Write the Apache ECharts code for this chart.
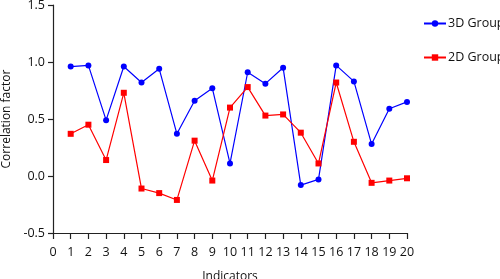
<!DOCTYPE html>
<html><head><meta charset="utf-8">
<script src="https://cdn.jsdelivr.net/npm/echarts@6/dist/echarts.min.js"></script>
<style>html,body{margin:0;padding:0;background:#fff}#c{width:500px;height:279px}</style>
</head><body><div id="c"></div>
<script>
var indicators = [1,2,3,4,5,6,7,8,9,10,11,12,13,14,15,16,17,18,19,20];
var group3D = [0.96,0.97,0.49,0.96,0.82,0.94,0.37,0.66,0.77,0.11,0.91,0.81,0.95,-0.08,-0.03,0.97,0.83,0.28,0.59,0.65];
var group2D = [0.37,0.45,0.14,0.73,-0.11,-0.15,-0.21,0.31,-0.04,0.60,0.78,0.53,0.54,0.38,0.11,0.82,0.30,-0.06,-0.04,-0.02];
var seriesNames = ['3D Group','2D Group'];
var font = 'Open Sans';
function pairs(v){return indicators.map(function(x,i){return [x,v[i]];});}
var chart = echarts.init(document.getElementById('c'), null, {renderer:'canvas'});
chart.setOption({
  animation:false,
  textStyle:{fontFamily:font},
  grid:{left:53,right:93,top:5,bottom:46,containLabel:false,outerBoundsMode:'none'},
  legend:{
    orient:'vertical', left:418, top:12, itemGap:21, itemWidth:22, itemHeight:8,
    textStyle:{fontFamily:font,fontSize:12.5,color:'#111',padding:[0,0,0,-3]},
    data:seriesNames
  },
  xAxis:{
    type:'value', min:0, max:20, interval:1,
    name:'Indicators', nameLocation:'middle', nameGap:38,
    nameTextStyle:{fontFamily:font,fontSize:12,color:'#111',verticalAlign:'top'},
    axisLine:{onZero:false,lineStyle:{color:'#222',width:1.2}},
    axisTick:{show:true,length:6,lineStyle:{color:'#222',width:1.2}},
    axisLabel:{fontFamily:font,fontSize:12.5,color:'#111',margin:13},
    splitLine:{show:false}
  },
  yAxis:{
    type:'value', min:-0.5, max:1.5, interval:0.5,
    name:'Correlation factor', nameLocation:'middle', nameGap:38,
    nameTextStyle:{fontFamily:font,fontSize:12,color:'#111'},
    axisLine:{show:true,onZero:false,lineStyle:{color:'#222',width:1.2}},
    axisTick:{show:true,length:5,lineStyle:{color:'#222',width:1.2}},
    axisLabel:{fontFamily:font,fontSize:12.5,color:'#111',margin:8,formatter:function(v){return v.toFixed(1);}},
    splitLine:{show:false}
  },
  series:[
    {name:seriesNames[0],type:'line',data:pairs(group3D),symbol:'circle',symbolSize:6,
     itemStyle:{color:'#0000ff'},lineStyle:{color:'#0000ff',width:1.2}},
    {name:seriesNames[1],type:'line',data:pairs(group2D),symbol:'rect',symbolSize:6,
     itemStyle:{color:'#ff0000'},lineStyle:{color:'#ff0000',width:1.2}}
  ]
});
</script></body></html>
